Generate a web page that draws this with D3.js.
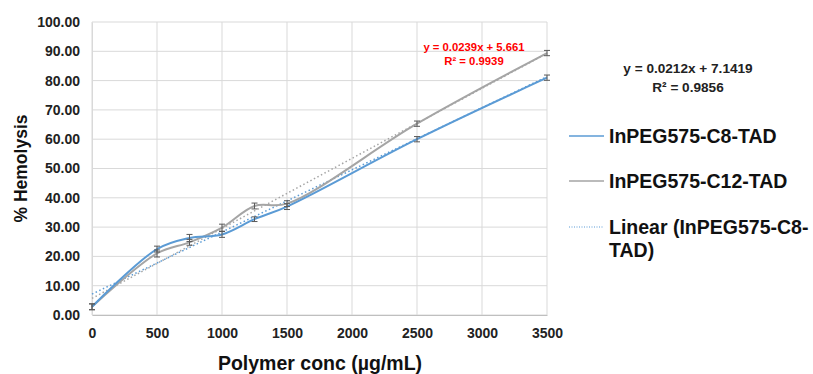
<!DOCTYPE html>
<html>
<head>
<meta charset="utf-8">
<script src="https://cdn.jsdelivr.net/npm/d3@7"></script>
<style>
  body { margin: 0; background: #fff; }
  text { font-family: "Liberation Sans", Arial, sans-serif; }
</style>
</head>
<body>
<svg id="chart" width="813" height="374"></svg>
<script>
// concentrations (µg/mL)
const conc = [0, 500, 750, 1000, 1250, 1500, 2500, 3500];
const c8Values = [2.8, 22.5, 26.3, 27.5, 32.7, 37.0, 60.0, 81.0];
const c8Err = [1.0, 1.0, 1.2, 1.0, 0.8, 1.0, 0.9, 0.9];
const c12Values = [2.8, 21.0, 24.8, 29.8, 37.2, 38.0, 65.3, 89.4];
const c12Err = [1.0, 1.2, 1.0, 1.2, 1.0, 1.0, 0.9, 0.9];
const c8Trend = [0.0212, 7.1419];
const c12Trend = [0.0239, 5.661];
const xTicks = [0, 500, 1000, 1500, 2000, 2500, 3000, 3500];
const yTicks = [0, 10, 20, 30, 40, 50, 60, 70, 80, 90, 100];
const legendLabels = ["InPEG575-C8-TAD", "InPEG575-C12-TAD", "Linear (InPEG575-C8-", "TAD)"];

const blue = "#5b9bd5", gray = "#a5a5a5";

const svg = d3.select("#chart");
const margin = {top: 22, left: 92},
    width = 455, height = 293;
const g = svg.append("g").attr("transform", "translate(" + margin.left + "," + margin.top + ")");

const x = d3.scaleLinear().domain([0, 3500]).range([0, width]);
const y = d3.scaleLinear().domain([0, 100]).range([height, 0]);

// gridlines
g.append("g").selectAll("line").data(yTicks).join("line")
    .attr("x1", 0).attr("x2", width)
    .attr("y1", d => y(d)).attr("y2", d => y(d))
    .attr("stroke", "#d9d9d9");
g.append("g").selectAll("line").data(xTicks).join("line")
    .attr("x1", d => x(d)).attr("x2", d => x(d))
    .attr("y1", 0).attr("y2", height)
    .attr("stroke", "#d9d9d9");

// axes
const xAxis = g.append("g")
    .attr("transform", "translate(0," + height + ")")
    .call(d3.axisBottom(x).tickValues(xTicks).tickSize(0).tickPadding(13).tickFormat(d3.format("d")));
xAxis.select(".domain").attr("stroke", "#bfbfbf");
xAxis.selectAll("text").attr("font-size", 14).attr("font-weight", "bold").attr("fill", "#222");

const yAxis = g.append("g")
    .call(d3.axisLeft(y).tickValues(yTicks).tickSize(0).tickPadding(12).tickFormat(d3.format(".2f")));
yAxis.select(".domain").attr("stroke", "#d9d9d9");
yAxis.selectAll("text").attr("font-size", 14).attr("font-weight", "bold").attr("fill", "#222");

// trendlines
[[c12Trend, gray], [c8Trend, blue]].forEach(([t, col]) => {
  g.append("line")
      .attr("x1", x(0)).attr("y1", y(t[1]))
      .attr("x2", x(3500)).attr("y2", y(t[0] * 3500 + t[1]))
      .attr("stroke", col).attr("stroke-width", 1.5)
      .attr("stroke-dasharray", "1.5,2.5");
});

// series
const line = d3.line()
    .x((d, i) => x(conc[i]))
    .y(d => y(d))
    .curve(d3.curveCatmullRom.alpha(0.5));

g.append("path").datum(c12Values)
    .attr("fill", "none").attr("stroke", gray).attr("stroke-width", 2)
    .attr("d", line);
g.append("path").datum(c8Values)
    .attr("fill", "none").attr("stroke", blue).attr("stroke-width", 2)
    .attr("d", line);

// error bars
function errorBars(vals, errs) {
  const eb = g.append("g").attr("stroke", "#595959").attr("stroke-width", 1);
  vals.forEach((v, i) => {
    const cx = x(conc[i]), lo = y(v - errs[i]), hi = y(v + errs[i]);
    eb.append("line").attr("x1", cx).attr("x2", cx).attr("y1", lo).attr("y2", hi);
    eb.append("line").attr("x1", cx - 3).attr("x2", cx + 3).attr("y1", lo).attr("y2", lo);
    eb.append("line").attr("x1", cx - 3).attr("x2", cx + 3).attr("y1", hi).attr("y2", hi);
  });
}
errorBars(c12Values, c12Err);
errorBars(c8Values, c8Err);

// equation labels
svg.append("text").attr("x", 474).attr("y", 51).attr("text-anchor", "middle")
    .attr("font-size", 11.3).attr("font-weight", "bold").attr("fill", "#ff0000")
    .text("y = " + c12Trend[0] + "x + " + c12Trend[1]);
svg.append("text").attr("x", 474).attr("y", 65).attr("text-anchor", "middle")
    .attr("font-size", 11.3).attr("font-weight", "bold").attr("fill", "#ff0000")
    .text("R² = 0.9939");
svg.append("text").attr("x", 688).attr("y", 73).attr("text-anchor", "middle")
    .attr("font-size", 13.6).attr("font-weight", "bold").attr("fill", "#222")
    .text("y = " + c8Trend[0] + "x + " + c8Trend[1]);
svg.append("text").attr("x", 688).attr("y", 92).attr("text-anchor", "middle")
    .attr("font-size", 13.6).attr("font-weight", "bold").attr("fill", "#222")
    .text("R² = 0.9856");

// legend
const leg = svg.append("g");
const legRows = [
  {y: 136, col: blue, dash: null, texts: [legendLabels[0]]},
  {y: 181, col: gray, dash: null, texts: [legendLabels[1]]},
  {y: 227, col: blue, dash: "1,1.5", texts: [legendLabels[2], legendLabels[3]]}
];
legRows.forEach(r => {
  leg.append("line").attr("x1", 569).attr("x2", 604).attr("y1", r.y).attr("y2", r.y)
      .attr("stroke", r.col).attr("stroke-width", r.dash ? 1 : 1.5)
      .attr("stroke-dasharray", r.dash);
  r.texts.forEach((t, i) => {
    leg.append("text").attr("x", 609).attr("y", r.y + 7 + i * 23)
        .attr("font-size", 19.5).attr("font-weight", "bold").attr("fill", "#111")
        .text(t);
  });
});

// axis titles
svg.append("text")
    .attr("transform", "translate(27," + (margin.top + height / 2) + ") rotate(-90)")
    .attr("text-anchor", "middle")
    .attr("font-size", 17.5).attr("font-weight", "bold").attr("fill", "#111")
    .text("% Hemolysis");
svg.append("text").attr("x", 320).attr("y", 370).attr("text-anchor", "middle")
    .attr("font-size", 19.5).attr("font-weight", "bold").attr("fill", "#111")
    .text("Polymer conc (µg/mL)");
</script>
</body>
</html>
